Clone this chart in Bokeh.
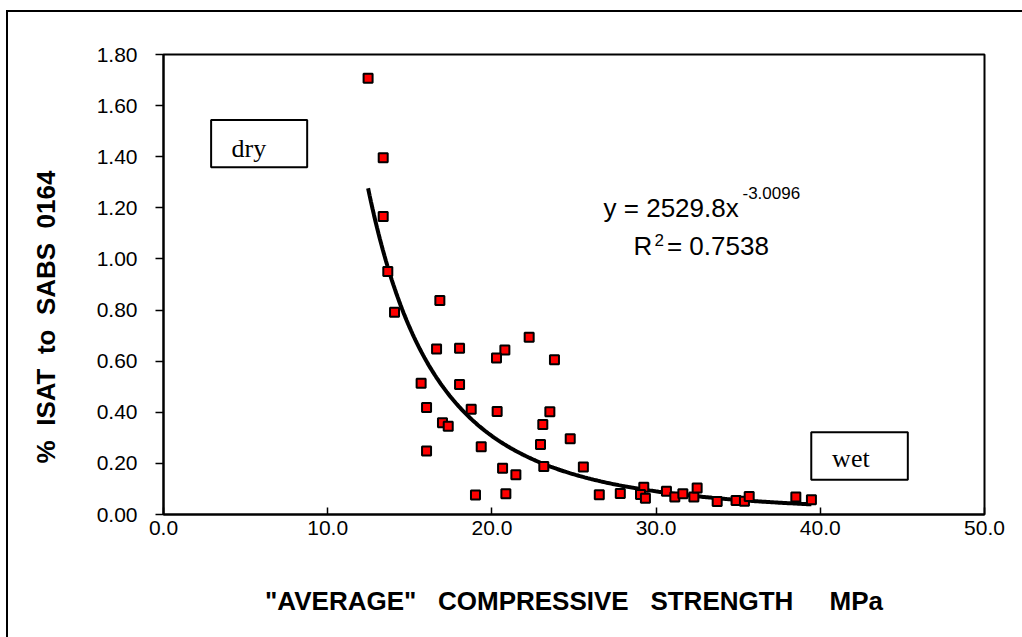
from bokeh.plotting import figure
from bokeh.models import Label, BoxAnnotation, FixedTicker, NumeralTickFormatter, Range1d
from bokeh.layouts import column
from bokeh.embed import file_html
from bokeh.resources import INLINE
import numpy as np

# Data
strength = [12.46, 13.38, 13.38, 13.66, 14.07, 16.83, 16.63, 18.03, 20.79, 20.28,
            22.27, 23.81, 15.69, 18.03, 16.02, 18.74, 20.32, 23.53, 16.99, 17.34,
            23.10, 24.77, 22.96, 19.35, 16.02, 20.65, 21.46, 23.16, 25.57, 19.00,
            20.85, 26.54, 27.82, 29.25, 29.05, 29.35, 30.63, 31.14, 31.63, 32.30,
            32.50, 33.72, 34.87, 35.38, 35.67, 38.51, 39.46]
isat = [1.707, 1.396, 1.166, 0.951, 0.791, 0.837, 0.648, 0.651, 0.644, 0.612,
        0.694, 0.606, 0.514, 0.509, 0.419, 0.412, 0.403, 0.402, 0.359, 0.345,
        0.352, 0.296, 0.274, 0.265, 0.248, 0.181, 0.156, 0.188, 0.186, 0.076,
        0.081, 0.077, 0.082, 0.107, 0.078, 0.064, 0.091, 0.068, 0.081, 0.068,
        0.104, 0.051, 0.055, 0.052, 0.070, 0.068, 0.058]
fit_a = 2529.8
fit_b = -3.0096
x_ticks = [0, 10, 20, 30, 40, 50]
y_ticks = [0.0, 0.2, 0.4, 0.6, 0.8, 1.0, 1.2, 1.4, 1.6, 1.8]

p = figure(width=1014, height=625, output_backend="svg", toolbar_location=None,
           x_range=Range1d(0, 50), y_range=Range1d(0, 1.8),
           min_border_left=155, min_border_right=38, min_border_top=42, min_border_bottom=123)
p.grid.visible = False
p.outline_line_color = "black"
p.outline_line_width = 2
p.background_fill_color = "white"
p.border_fill_color = "white"

fit_x = np.linspace(min(strength), max(strength), 300)
fit_y = fit_a * fit_x ** fit_b
p.line(fit_x, fit_y, line_color="black", line_width=4)
p.scatter(strength, isat, marker="square", size=9, fill_color="#FF0000",
          line_color="black", line_width=2)

NB = "\u00a0"
xa = p.xaxis[0]
xa.ticker = FixedTicker(ticks=x_ticks)
xa.formatter = NumeralTickFormatter(format="0.0")
xa.major_tick_in = 7
xa.major_tick_out = 0
xa.minor_tick_line_color = None
xa.axis_line_width = 2
xa.major_tick_line_width = 1.5
xa.major_label_text_font = "Liberation Sans"
xa.major_label_text_font_size = "21px"
xa.major_label_text_color = "black"
xa.major_label_standoff = 6
xa.axis_label = '"AVERAGE"' + NB * 3 + "COMPRESSIVE" + NB * 3 + "STRENGTH" + NB * 5 + "MPa"
xa.axis_label_text_font = "Liberation Sans"
xa.axis_label_text_font_style = "bold"
xa.axis_label_text_font_size = "26px"
xa.axis_label_text_color = "black"
xa.axis_label_standoff = 48

ya = p.yaxis[0]
ya.ticker = FixedTicker(ticks=y_ticks)
ya.formatter = NumeralTickFormatter(format="0.00")
ya.major_tick_in = 0
ya.major_tick_out = 8
ya.minor_tick_line_color = None
ya.axis_line_width = 2
ya.major_tick_line_width = 1.5
ya.major_label_text_font = "Liberation Sans"
ya.major_label_text_font_size = "21px"
ya.major_label_text_color = "black"
ya.major_label_standoff = 18
ya.axis_label = ("%" + NB * 2 + "ISAT" + NB * 2 + "to" + NB * 2 + "SABS" + NB * 2 + "0164"
                 + NB * 9)
ya.axis_label_text_font = "Liberation Sans"
ya.axis_label_text_font_style = "bold"
ya.axis_label_text_font_size = "26px"
ya.axis_label_text_color = "black"
ya.axis_label_standoff = 33

# dry / wet boxes
for (l, r, t, b) in [(2.90, 8.75, 1.544, 1.359), (39.45, 45.33, 0.322, 0.136)]:
    p.add_layout(BoxAnnotation(left=l, right=r, top=t, bottom=b, fill_color="white",
                               fill_alpha=1, line_color="black", line_width=2, line_alpha=1))
p.add_layout(Label(x=4.14, y=1.433, text="dry", text_font="Liberation Serif",
                   text_font_size="26px", text_baseline="alphabetic", text_color="black"))
p.add_layout(Label(x=40.72, y=0.220, text="wet", text_font="Liberation Serif",
                   text_font_size="26px", text_baseline="alphabetic", text_color="black"))

# trendline equation
p.add_layout(Label(x=26.8, y=1.201, text="y = 2529.8x", text_font="Liberation Sans",
                   text_font_size="26px", text_baseline="alphabetic", text_color="black"))
p.add_layout(Label(x=35.26, y=1.257, text="-3.0096", text_font="Liberation Sans",
                   text_font_size="17px", text_baseline="alphabetic", text_color="black"))
p.add_layout(Label(x=28.62, y=1.051, text="R", text_font="Liberation Sans",
                   text_font_size="26px", text_baseline="alphabetic", text_color="black"))
p.add_layout(Label(x=29.9, y=1.076, text="2", text_font="Liberation Sans",
                   text_font_size="17px", text_baseline="alphabetic", text_color="black"))
p.add_layout(Label(x=30.66, y=1.051, text="= 0.7538", text_font="Liberation Sans",
                   text_font_size="26px", text_baseline="alphabetic", text_color="black"))

layout = column(p, styles={"margin-left": "6px", "margin-top": "10px",
                           "border-left": "2px solid black", "border-top": "2px solid black"})

open("out.html", "w").write(file_html(layout, INLINE))
